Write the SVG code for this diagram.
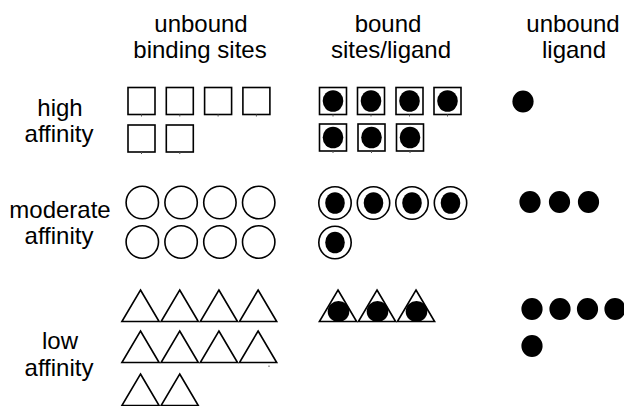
<svg xmlns="http://www.w3.org/2000/svg" width="624" height="406" viewBox="0 0 624 406">
<style>
text{font-family:"Liberation Sans",Arial,sans-serif;font-size:24px;fill:#000;text-anchor:middle}
.site{fill:#fff;stroke:#000;stroke-width:1.6}
.lig{fill:#000;stroke:none}
.tick{stroke:#555;stroke-width:1}
</style>
<defs>
<g id="sq"><rect class="site" x="0" y="0" width="27" height="27"/><line class="tick" x1="13.5" y1="27" x2="13.5" y2="29"/></g>
<g id="bsq"><use href="#sq"/><ellipse class="lig" cx="13.5" cy="13.5" rx="10.3" ry="10.8"/></g>
<circle id="ci" class="site" cx="0" cy="0" r="16.2"/>
<g id="bci"><use href="#ci"/><ellipse class="lig" cx="0" cy="0" rx="9.8" ry="10.8"/></g>
<polygon id="tri" class="site" points="0,0 18.6,31.5 -18.6,31.5" stroke-linejoin="miter"/>
<g id="btri"><use href="#tri"/><ellipse class="lig" cx="0.5" cy="21.5" rx="10.8" ry="10.5"/></g>
<ellipse id="dot" class="lig" cx="0" cy="0" rx="10.6" ry="10.9"/>
</defs>
<rect width="624" height="406" fill="#fff"/>
<g id="headers">
<text x="201" y="32">unbound</text>
<text x="200" y="57.5">binding sites</text>
<text x="388" y="32">bound</text>
<text x="391" y="57.5">sites/ligand</text>
<text x="573" y="32">unbound</text>
<text x="574" y="57.5">ligand</text>
</g>
<g id="row-labels">
<text x="60" y="116">high</text>
<text x="59" y="142">affinity</text>
<text x="60" y="218">moderate</text>
<text x="59" y="244">affinity</text>
<text x="60" y="349">low</text>
<text x="59" y="375.5">affinity</text>
</g>
<g id="high-unbound-sites">
<use href="#sq" x="128" y="87.5"/><use href="#sq" x="166.3" y="87.5"/><use href="#sq" x="204.6" y="87.5"/><use href="#sq" x="242.9" y="87.5"/>
<use href="#sq" x="128" y="125"/><use href="#sq" x="166.3" y="125"/>
</g>
<g id="high-bound">
<use href="#bsq" x="319.5" y="87.5"/><use href="#bsq" x="357.5" y="87.5"/><use href="#bsq" x="396" y="87.5"/><use href="#bsq" x="434" y="87.5"/>
<use href="#bsq" x="319.5" y="124"/><use href="#bsq" x="358" y="124"/><use href="#bsq" x="396.5" y="124"/>
</g>
<g id="high-unbound-ligand">
<use href="#dot" x="523" y="101.5"/>
</g>
<g id="moderate-unbound-sites">
<use href="#ci" x="142.3" y="202.5"/><use href="#ci" x="181.1" y="202.5"/><use href="#ci" x="219.9" y="202.5"/><use href="#ci" x="258.7" y="202.5"/>
<use href="#ci" x="142.3" y="242"/><use href="#ci" x="181.1" y="242"/><use href="#ci" x="219.9" y="242"/><use href="#ci" x="258.7" y="242"/>
</g>
<g id="moderate-bound">
<use href="#bci" x="335" y="203"/><use href="#bci" x="373.5" y="203"/><use href="#bci" x="412" y="203"/><use href="#bci" x="450.5" y="203"/>
<use href="#bci" x="335" y="242.5"/>
</g>
<g id="moderate-unbound-ligand">
<use href="#dot" x="530" y="202"/><use href="#dot" x="559.5" y="202"/><use href="#dot" x="588.5" y="202"/>
</g>
<g id="low-unbound-sites">
<use href="#tri" x="140.5" y="290"/><use href="#tri" x="179.7" y="290"/><use href="#tri" x="218.9" y="290"/><use href="#tri" x="258.1" y="290"/>
<use href="#tri" x="140.5" y="331"/><use href="#tri" x="179.7" y="331"/><use href="#tri" x="218.9" y="331"/><use href="#tri" x="258.1" y="331"/>
<use href="#tri" x="140.5" y="374"/><use href="#tri" x="179.7" y="374"/>
<line class="tick" x1="269" y1="365.5" x2="269" y2="367"/>
</g>
<g id="low-bound">
<use href="#btri" x="338" y="290"/><use href="#btri" x="377" y="290"/><use href="#btri" x="416" y="290"/>
</g>
<g id="low-unbound-ligand">
<use href="#dot" x="532" y="309"/><use href="#dot" x="560" y="309"/><use href="#dot" x="587.5" y="309"/><use href="#dot" x="615" y="309"/>
<use href="#dot" x="532" y="346"/>
</g>
</svg>
